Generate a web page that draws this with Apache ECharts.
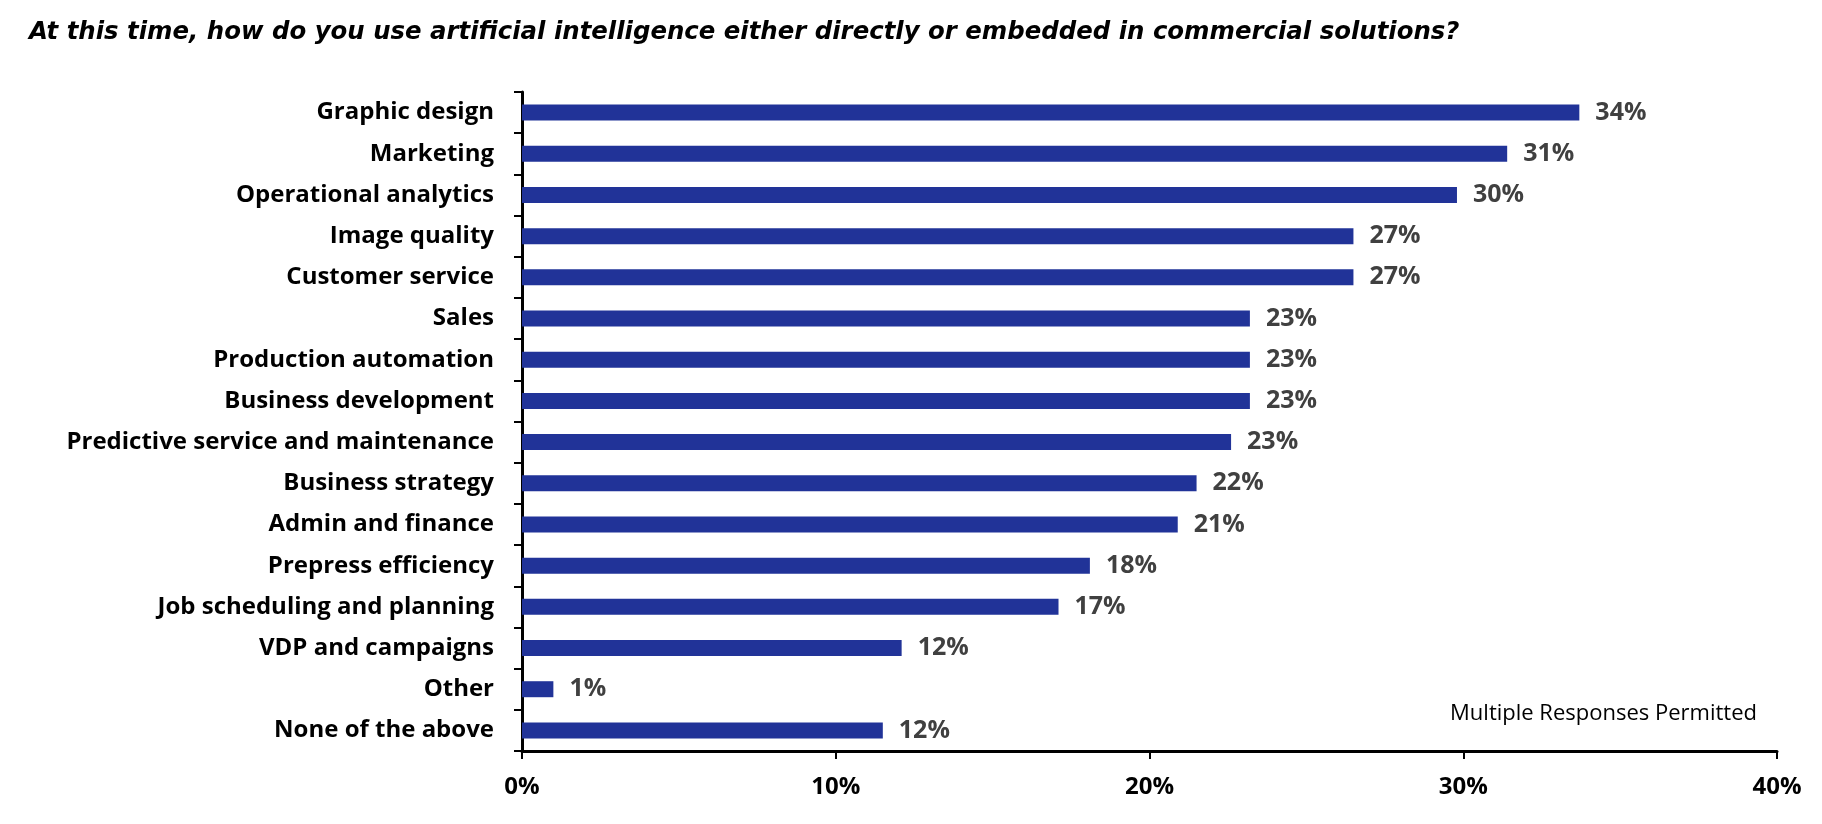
<!DOCTYPE html>
<html>
<head>
<meta charset="utf-8">
<script src="https://cdn.jsdelivr.net/npm/echarts@6/dist/echarts.min.js"></script>
<style>
  html, body { margin: 0; padding: 0; background: #fff; }
  #chart { width: 1822px; height: 824px; }
</style>
</head>
<body>
<div id="chart"></div>
<script>
// categories, top to bottom as shown
const categories = [
  'Graphic design', 'Marketing', 'Operational analytics', 'Image quality',
  'Customer service', 'Sales', 'Production automation', 'Business development',
  'Predictive service and maintenance', 'Business strategy', 'Admin and finance',
  'Prepress efficiency', 'Job scheduling and planning', 'VDP and campaigns',
  'Other', 'None of the above'
];
// share of respondents, percent
const shares = [33.7, 31.4, 29.8, 26.5, 26.5, 23.2, 23.2, 23.2, 22.6, 21.5, 20.9, 18.1, 17.1, 12.1, 1.0, 11.5];
const xTicks = [0, 10, 20, 30, 40];

const titleText = 'At this time, how do you use artificial intelligence either directly or embedded in commercial solutions?';
const noteText = 'Multiple Responses Permitted';

const labelFont = '"Open Sans", sans-serif';

const myChart = echarts.init(document.getElementById('chart'));

const option = {
  animation: false,
  title: [
    {
      text: titleText,
      left: 24,
      top: 16,
      textStyle: {
        fontFamily: '"DejaVu Sans", sans-serif',
        fontStyle: 'italic',
        fontWeight: 'bold',
        fontSize: 24.4,
        color: '#000'
      }
    },
    {
      text: noteText,
      right: 60,
      top: 698,
      textStyle: {
        fontFamily: labelFont,
        fontWeight: 'normal',
        fontSize: 22,
        color: '#000'
      }
    }
  ],
  grid: { left: 522, right: 45, top: 92, bottom: 73, containLabel: false },
  xAxis: {
    type: 'value',
    min: xTicks[0],
    max: xTicks[xTicks.length - 1],
    interval: 10,
    splitLine: { show: false },
    axisLine: { show: true, lineStyle: { color: '#000', width: 3 } },
    axisTick: { show: true, length: 8, inside: false, lineStyle: { color: '#000', width: 2 } },
    axisLabel: {
      margin: 24,
      formatter: v => v + '%',
      fontFamily: labelFont,
      fontWeight: 'bold',
      fontSize: 24,
      color: '#000'
    }
  },
  yAxis: {
    type: 'category',
    inverse: true,
    data: categories,
    axisLine: { show: true, lineStyle: { color: '#000', width: 3 } },
    axisTick: { show: true, length: 8, lineStyle: { color: '#000', width: 2 } },
    axisLabel: {
      margin: 28,
      fontFamily: labelFont,
      fontWeight: 'bold',
      fontSize: 24,
      color: '#000'
    }
  },
  series: [
    {
      type: 'bar',
      data: shares,
      barWidth: 16,
      itemStyle: { color: '#213398' },
      label: {
        show: true,
        position: 'right',
        distance: 16,
        formatter: p => Math.round(p.value) + '%',
        fontFamily: labelFont,
        fontWeight: 'bold',
        fontSize: 25,
        color: '#404040'
      }
    }
  ]
};

myChart.setOption(option);
</script>
</body>
</html>
